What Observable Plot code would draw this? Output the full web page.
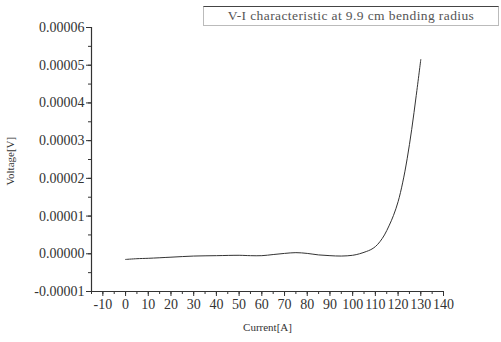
<!DOCTYPE html>
<html>
<head>
<meta charset="utf-8">
<script src="https://cdn.jsdelivr.net/npm/d3@7"></script>
<script src="https://cdn.jsdelivr.net/npm/@observablehq/plot@0.6"></script>
<style>
  body { margin: 0; background: #fff; }
  #wrap { position: relative; width: 501px; height: 342px; font-family: "Liberation Serif", "DejaVu Serif", serif; }
  #title { position: absolute; left: 203px; top: 6px; width: 294px; height: 18px; border: 1px solid #bbb; border-top: 1px solid #444;
           font-size: 13.5px; color: #555; text-align: center; line-height: 18px; background: #fff; letter-spacing: 0.4px; }
</style>
</head>
<body>
<div id="wrap"></div>
<script>
const current = [0, 5, 10, 20, 30, 40, 50, 55, 60, 65, 70, 75, 80, 85, 90, 95, 100, 103, 106, 108, 110, 112, 114, 116, 118, 120, 122, 124, 126, 128, 130];
const voltage = [-1.5e-6, -1.3e-6, -1.2e-6, -0.9e-6, -0.6e-6, -0.5e-6, -0.4e-6, -0.5e-6, -0.5e-6, -0.2e-6, 0.1e-6, 0.3e-6, 0.1e-6, -0.3e-6, -0.5e-6, -0.6e-6, -0.4e-6, 0.0e-6, 0.6e-6, 1.1e-6, 1.9e-6, 3.2e-6, 5.0e-6, 7.4e-6, 10.2e-6, 13.8e-6, 18.8e-6, 25.2e-6, 33.0e-6, 42.0e-6, 51.5e-6];
const xTicks = [-10, 0, 10, 20, 30, 40, 50, 60, 70, 80, 90, 100, 110, 120, 130, 140];
const xMinor = d3.range(-15, 141, 5);
const yTicks = [-0.00001, 0, 0.00001, 0.00002, 0.00003, 0.00004, 0.00005, 0.00006];
const yMinor = d3.range(-10, 61, 5).map(v => v * 1e-6);
const titleText = "V-I characteristic at 9.9 cm bending radius";
const xLabel = "Current[A]";
const yLabel = "Voltage[V]";

const data = current.map((c, i) => ({c, v: voltage[i]}));

const chart = Plot.plot({
  width: 501,
  height: 342,
  marginLeft: 91,
  marginRight: 58,
  marginTop: 27,
  marginBottom: 51,
  style: {fontFamily: "Liberation Serif, serif", color: "#333", background: "#fff"},
  x: {domain: [-15, 140], label: null},
  y: {domain: [-0.00001, 0.00006], label: null},
  marks: [
    Plot.axisX({ticks: xMinor, tickSize: 3, text: null, label: null, stroke: "#333"}),
    Plot.axisX({ticks: xTicks, tickSize: 5, tickPadding: 3, fontSize: 14, label: null, stroke: "#333", fill: "#333", tickFormat: d => String(d)}),
    Plot.axisY({ticks: yMinor, tickSize: 3, text: null, label: null, stroke: "#333"}),
    Plot.axisY({ticks: yTicks, tickSize: 5, tickPadding: 2, fontSize: 14, label: null, stroke: "#333", fill: "#333", tickFormat: d => d.toFixed(5)}),
    Plot.ruleX([-15], {stroke: "#333", strokeWidth: 1.2}),
    Plot.ruleY([-0.00001], {stroke: "#333", strokeWidth: 1.2}),
    Plot.line(data, {x: "c", y: "v", curve: "catmull-rom", stroke: "#333", strokeWidth: 1}),
    Plot.text([xLabel], {frameAnchor: "bottom", dy: 39, fontSize: 11, fill: "#333"}),
    Plot.text([yLabel], {frameAnchor: "left", dx: -81, dy: 26, rotate: -90, fontSize: 11, fill: "#333"})
  ]
});
const wrap = document.getElementById("wrap");
wrap.appendChild(chart);
const t = document.createElement("div");
t.id = "title";
t.textContent = titleText;
wrap.appendChild(t);
</script>
</body>
</html>
